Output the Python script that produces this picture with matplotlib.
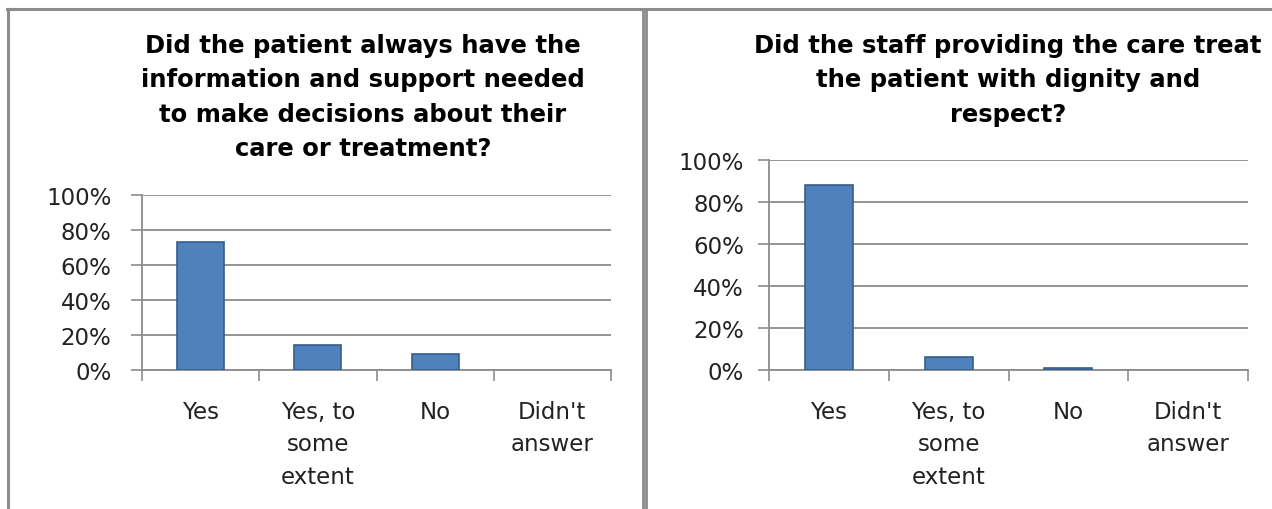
import matplotlib.pyplot as plt
from matplotlib.lines import Line2D

categories = ["Yes", "Yes, to\nsome\nextent", "No", "Didn't\nanswer"]
info_support = [73, 14.5, 9, 0]
dignity_respect = [88, 6.2, 1.1, 0]
titles = ["Did the patient always have the\ninformation and support needed\nto make decisions about their\ncare or treatment?",
          "Did the staff providing the care treat\nthe patient with dignity and\nrespect?"]
ytick_labels = ["0%", "20%", "40%", "60%", "80%", "100%"]

W, H = 1272, 510
plt.rcParams["font.family"] = "DejaVu Sans"
fig = plt.figure(figsize=(W / 100, H / 100), dpi=100)

grey = "#8c8c8c"
bar_face = "#4f81bd"
bar_edge = "#385d8a"


def px(x0, y0, x1, y1):
    # pixel box (top-left origin) -> figure fraction rect
    return [x0 / W, 1 - y1 / H, (x1 - x0) / W, (y1 - y0) / H]


def draw(ax, values, ypad):
    pos = [i + 0.5 for i in range(len(values))]
    edges = [bar_edge if v > 0 else "none" for v in values]
    ax.bar(pos, values, width=0.4, color=bar_face, edgecolor=edges, linewidth=1.2, zorder=3)
    ax.set_xlim(0, 4)
    ax.set_ylim(0, 100)
    ax.set_yticks(range(0, 101, 20))
    ax.set_yticklabels(ytick_labels, fontsize=16.5, color="#222222")
    ax.set_xticks(range(0, 5))
    ax.set_xticklabels([])
    ax.set_xticks(pos, minor=True)
    ax.set_xticklabels(categories, minor=True, fontsize=16.5, color="#222222", linespacing=1.52, va="top")
    ax.tick_params(axis="x", which="major", length=8, width=1.2, color=grey, direction="out")
    ax.tick_params(axis="x", which="minor", length=0, pad=21.5)
    ax.tick_params(axis="y", length=8, width=1.2, color=grey, pad=ypad)
    ax.grid(axis="y", color=grey, linewidth=1.3, zorder=0)
    for s in ["top", "right"]:
        ax.spines[s].set_visible(False)
    for s in ["left", "bottom"]:
        ax.spines[s].set_color(grey)
        ax.spines[s].set_linewidth(1.3)


ax1 = fig.add_axes(px(142, 196, 611, 371))
draw(ax1, info_support, 14)
ax2 = fig.add_axes(px(769, 161, 1248, 371))
draw(ax2, dignity_respect, 10)

fig.text(363 / W, 1 - 34 / H, titles[0], ha="center", va="top", fontsize=17.5,
         fontweight="bold", linespacing=1.55)
fig.text(1008 / W, 1 - 34 / H, titles[1], ha="center", va="top", fontsize=17.5,
         fontweight="bold", linespacing=1.55)

# panel frames
fig.add_artist(Line2D([7 / W, 1], [1 - 10 / H] * 2, color=grey, linewidth=2.2))
fig.add_artist(Line2D([8 / W] * 2, [0, 1 - 10 / H], color=grey, linewidth=2.2))
fig.add_artist(Line2D([642.5 / W] * 2, [0, 1 - 10 / H], color=grey, linewidth=2))
fig.add_artist(Line2D([645.5 / W] * 2, [0, 1 - 10 / H], color=grey, linewidth=2))

fig.savefig("out.png", dpi=100)
